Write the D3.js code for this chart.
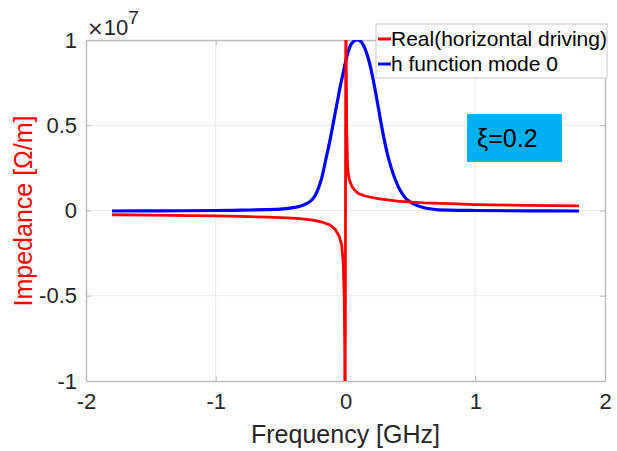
<!DOCTYPE html>
<html>
<head>
<meta charset="utf-8">
<script src="https://d3js.org/d3.v7.min.js"></script>
<style>
  body { margin: 0; background: #fff; }
  text { font-family: 'Liberation Sans', Arial, sans-serif; }
</style>
</head>
<body>
<svg id="chart" width="617" height="451"></svg>
<script>
// frequency in GHz, impedance in units of 1e7 Ohm/m
let realFreq = [-1.8, -1.5, -1.2, -1.0, -0.8, -0.6, -0.45, -0.35, -0.25, -0.18, -0.12, -0.08, -0.05, -0.03, -0.018, -0.01, -0.006, -0.003,
  0.003, 0.006, 0.01, 0.015, 0.02, 0.03, 0.05, 0.07, 0.1, 0.15, 0.25, 0.4, 0.6, 0.8, 1.0, 1.4, 1.8]
let realVals = [-0.025, -0.027, -0.03, -0.032, -0.035, -0.039, -0.043, -0.048, -0.056, -0.068, -0.085, -0.11, -0.15, -0.2, -0.3, -0.5, -0.8, -1.5,
  1.5, 0.8, 0.45, 0.28, 0.22, 0.18, 0.14, 0.12, 0.1, 0.085, 0.07, 0.055, 0.045, 0.04, 0.035, 0.03, 0.027]

let hFreq = [-1.8, -1.4, -1.0, -0.8, -0.6, -0.5, -0.45, -0.4, -0.35, -0.3, -0.27, -0.24, -0.22, -0.2, -0.18, -0.16, -0.14, -0.12, -0.1, -0.08, -0.06, -0.04, -0.02, 0,
  0.02, 0.04, 0.06, 0.09, 0.12, 0.15, 0.18, 0.21, 0.24, 0.27, 0.3, 0.33, 0.37, 0.42, 0.46, 0.5, 0.55, 0.6, 0.65, 0.7, 0.8, 1.0, 1.4, 1.8]
let hVals = [-0.003, -0.002, 0.0, 0.002, 0.005, 0.008, 0.012, 0.017, 0.025, 0.04, 0.055, 0.08, 0.11, 0.15, 0.2, 0.27, 0.34, 0.41, 0.49, 0.57, 0.65, 0.73, 0.8, 0.87,
  0.93, 0.97, 0.99, 1.0, 0.99, 0.95, 0.88, 0.78, 0.66, 0.53, 0.41, 0.31, 0.21, 0.12, 0.075, 0.05, 0.03, 0.018, 0.01, 0.005, 0.002, 0.0, -0.002, -0.003]

let xTicks = [-2, -1, 0, 1, 2]
let yTicks = [-1, -0.5, 0, 0.5, 1]
let seriesNames = ['Real(horizontal driving)', 'h function mode 0']
let seriesColors = ['#ff0000', '#0000ff']

let svg = d3.select('#chart')
let plotLeft = 86
let plotRight = 605
let plotTop = 40
let plotBottom = 381

let x = d3.scaleLinear().domain([-2, 2]).range([plotLeft, plotRight])
let y = d3.scaleLinear().domain([-1, 1]).range([plotBottom, plotTop])

// matlab style labels use a plain hyphen
let fmt = function (d) { return String(d) }

// grid
svg.append('g').selectAll('line')
  .data(xTicks.slice(1, -1))
  .enter().append('line')
  .attr('x1', function (d) { return x(d) }).attr('x2', function (d) { return x(d) })
  .attr('y1', plotTop).attr('y2', plotBottom)
  .attr('stroke', '#e9e9e9').attr('stroke-width', 1)
svg.append('g').selectAll('line')
  .data(yTicks.slice(1, -1))
  .enter().append('line')
  .attr('x1', plotLeft).attr('x2', plotRight)
  .attr('y1', function (d) { return y(d) }).attr('y2', function (d) { return y(d) })
  .attr('stroke', '#e9e9e9').attr('stroke-width', 1)

// axes box with inward ticks
let axisColor = '#bdbdbd'
let ax = svg.append('g')
ax.append('g').attr('transform', 'translate(0,' + plotBottom + ')')
  .call(d3.axisBottom(x).tickValues(xTicks).tickSizeInner(-5).tickSizeOuter(0).tickPadding(12).tickFormat(fmt))
ax.append('g').attr('transform', 'translate(0,' + plotTop + ')')
  .call(d3.axisTop(x).tickValues(xTicks).tickSizeInner(-5).tickSizeOuter(0).tickFormat(''))
ax.append('g').attr('transform', 'translate(' + plotLeft + ',0)')
  .call(d3.axisLeft(y).tickValues(yTicks).tickSizeInner(-5).tickSizeOuter(0).tickPadding(9).tickFormat(fmt))
ax.append('g').attr('transform', 'translate(' + plotRight + ',0)')
  .call(d3.axisRight(y).tickValues(yTicks).tickSizeInner(-5).tickSizeOuter(0).tickFormat(''))
ax.selectAll('path').attr('stroke', axisColor).attr('stroke-width', 1.5)
ax.selectAll('line').attr('stroke', axisColor)
ax.selectAll('text').attr('fill', '#262626').style('font-size', '22px').style('font-family', "'Liberation Sans', Arial, sans-serif")

// exponent
let expo = svg.append('text').attr('x', 87).attr('y', 35).attr('fill', '#262626').style('font-size', '22px')
expo.append('tspan').style('font-family', "'DejaVu Sans', sans-serif").style('font-size', '20px').text('\u00d7')
expo.append('tspan').text('10')
expo.append('tspan').attr('dy', -11).style('font-size', '19px').text('7')

// axis labels
svg.append('text').attr('x', (plotLeft + plotRight) / 2).attr('y', 443).attr('text-anchor', 'middle')
  .attr('fill', '#262626').style('font-size', '25px').text('Frequency [GHz]')
svg.append('text').attr('transform', 'translate(32,211) rotate(-90)').attr('text-anchor', 'middle')
  .attr('fill', '#ff0000').style('font-size', '25px').text('Impedance [\u03a9/m]')

// curves
svg.append('clipPath').attr('id', 'clip').append('rect')
  .attr('x', plotLeft).attr('y', plotTop).attr('width', plotRight - plotLeft).attr('height', plotBottom - plotTop)

let line = d3.line()
  .x(function (d) { return x(d[0]) })
  .y(function (d) { return y(d[1]) })

let plot = svg.append('g').attr('clip-path', 'url(#clip)')
plot.append('path')
  .datum(d3.zip(hFreq, hVals))
  .attr('d', line.curve(d3.curveCatmullRom))
  .attr('fill', 'none').attr('stroke', seriesColors[1]).attr('stroke-width', 3.2)
plot.append('path')
  .datum(d3.zip(realFreq, realVals))
  .attr('d', line.curve(d3.curveLinear))
  .attr('fill', 'none').attr('stroke', seriesColors[0]).attr('stroke-width', 2.8)

// legend
let legend = svg.append('g')
legend.append('rect').attr('x', 376).attr('y', 24).attr('width', 231).attr('height', 54)
  .attr('fill', '#fff').attr('stroke', '#c8c8c8').attr('stroke-width', 1)
let items = legend.selectAll('.item')
  .data(seriesNames)
  .enter().append('g')
  .attr('class', 'item')
  .attr('transform', function (d, i) { return 'translate(378,' + (39 + i * 25) + ')' })
items.append('line').attr('x1', 0).attr('x2', 13)
  .attr('stroke', function (d, i) { return seriesColors[i] }).attr('stroke-width', 3)
items.append('text').attr('x', 13).attr('dy', '0.35em')
  .attr('fill', '#000').style('font-size', '21px')
  .text(function (d) { return d })

// annotation
svg.append('rect').attr('x', 467).attr('y', 114).attr('width', 95).attr('height', 48).attr('fill', '#00b0f0')
svg.append('text').attr('x', 477).attr('y', 138).attr('dy', '0.35em')
  .attr('fill', '#000').style('font-size', '25px').text('\u03be=0.2')
</script>
</body>
</html>
